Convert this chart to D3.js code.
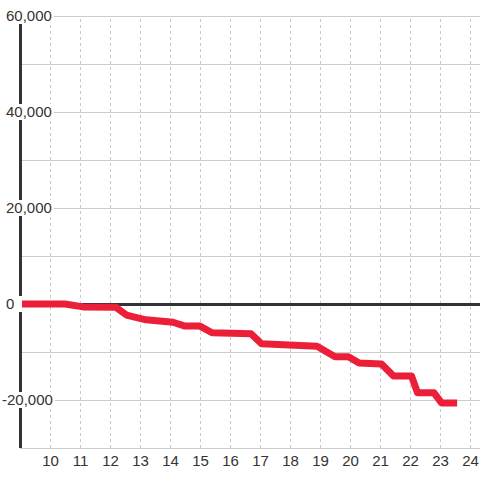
<!DOCTYPE html>
<html><head><meta charset="utf-8">
<script src="https://cdn.jsdelivr.net/npm/d3@7"></script>
<style>
html,body{margin:0;padding:0;background:#fff;}
svg{display:block;font-family:"Liberation Sans",Arial,sans-serif;}
</style></head>
<body>
<script>
// Data
const xValues = [9.0, 10.5, 11.1, 12.2, 12.55, 13.2, 14.1, 14.5, 15.0, 15.4, 16.7, 17.05, 18.9, 19.5, 19.95, 20.3, 21.05, 21.45, 22.05, 22.25, 22.8, 23.05, 23.57];
const yValues = [0, 0, -600, -700, -2300, -3300, -3800, -4600, -4600, -6000, -6200, -8300, -8800, -11000, -11000, -12300, -12500, -15000, -15000, -18500, -18500, -20600, -20600];
const xTicks = [10, 11, 12, 13, 14, 15, 16, 17, 18, 19, 20, 21, 22, 23, 24];
const yGrid = [60000, 50000, 40000, 30000, 20000, 10000, -10000, -20000, -30000];
const yLabels = [60000, 40000, 20000, 0, -20000];
const xDomain = [9, 24.333];
const yDomain = [-30000, 60000];

const W = 480, H = 480;
const mLeft = 20, mRight = 480, mTop = 16, mBottom = 448;

const svg = d3.select("body").append("svg").attr("width", W).attr("height", H);
svg.append("rect").attr("width", W).attr("height", H).attr("fill", "#fff");

const x = d3.scaleLinear().domain(xDomain).range([mLeft, mRight]);
const y = d3.scaleLinear().domain(yDomain).range([mBottom, mTop]);

// horizontal gridlines
const hg = svg.append("g").attr("transform", `translate(${mLeft},0)`)
  .call(d3.axisLeft(y).tickValues(yGrid).tickSize(-(mRight - mLeft)).tickFormat(""));
hg.select(".domain").remove();
hg.selectAll("line").attr("stroke", "#cccccc").attr("stroke-width", 1).attr("shape-rendering", "crispEdges");

// vertical dotted gridlines
const vg = svg.append("g").attr("transform", `translate(0,${mBottom})`)
  .call(d3.axisBottom(x).tickValues(xTicks).tickSize(-(mBottom - mTop)).tickFormat(""));
vg.select(".domain").remove();
vg.selectAll("line").attr("stroke", "#c8c8c8").attr("stroke-width", 1).attr("stroke-dasharray", "3,3").attr("shape-rendering", "crispEdges");

// x labels
const xl = svg.append("g").attr("transform", `translate(0,${mBottom})`)
  .call(d3.axisBottom(x).tickValues(xTicks).tickSize(0).tickPadding(7).tickFormat(d3.format("d")));
xl.select(".domain").remove();
xl.selectAll("text").attr("fill", "#333").attr("font-size", "15px").attr("font-family", "'Liberation Sans',Arial,sans-serif");

// vertical axis line
svg.append("line").attr("x1", mLeft + 0.5).attr("x2", mLeft + 0.5).attr("y1", mTop).attr("y2", mBottom)
  .attr("stroke", "#333").attr("stroke-width", 3);

// zero line
svg.append("line").attr("x1", mLeft).attr("x2", mRight).attr("y1", y(0) + 0.5).attr("y2", y(0) + 0.5)
  .attr("stroke", "#333").attr("stroke-width", 3);

// red line
const data = xValues.map((v, i) => [v, yValues[i]]);
svg.append("path").datum(data)
  .attr("fill", "none").attr("stroke", "#ec1f38").attr("stroke-width", 7)
  .attr("stroke-linejoin", "round").attr("stroke-linecap", "butt")
  .attr("d", d3.line().x(d => x(d[0])).y(d => y(d[1])).curve(d3.curveLinear));

// y labels with white backgrounds
const fmt = d3.format(",");
const lg = svg.append("g");
yLabels.forEach(v => {
  const g = lg.append("g");
  const bg = g.append("rect").attr("fill", "#fff");
  const t = g.append("text")
    .attr("x", v < 0 ? 2 : 6).attr("y", y(v)).attr("dy", "0.35em")
    .attr("fill", "#333").attr("font-size", "15px")
    .attr("font-family", "'Liberation Sans',Arial,sans-serif")
    .text(fmt(v).replace("−", "-"));
  const b = t.node().getBBox();
  bg.attr("x", b.x - 3).attr("y", y(v) - 8).attr("width", Math.max(b.width + 5, 22 - (b.x - 3))).attr("height", 16);
});
</script>
</body></html>
